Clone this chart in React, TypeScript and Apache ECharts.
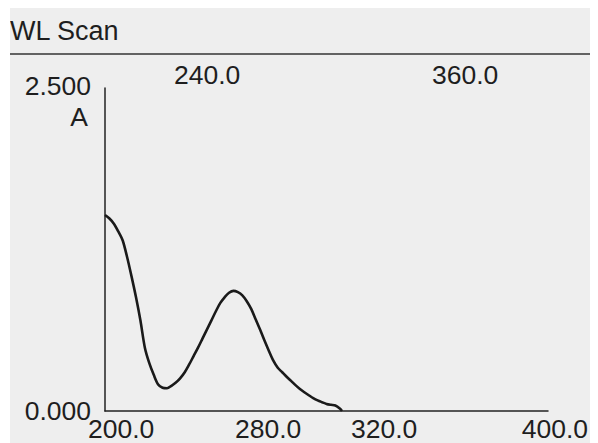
import React, { useEffect, useRef } from "react";
import * as echarts from "echarts";

const wavelengths = [
  200, 202, 204, 206, 208, 210, 212, 214, 216, 218, 220, 222, 224, 226, 228, 230,
  232, 234, 236, 238, 240, 242, 244, 246, 248, 250, 252, 254, 256, 258, 260, 262,
  264, 266, 268, 270, 272, 274, 276, 278, 280, 282, 284, 286, 288, 290, 292, 294,
  296, 298, 300, 302, 304, 306, 307,
];
const absorbance = [
  1.517, 1.49, 1.45, 1.39, 1.32, 1.19, 1.04, 0.88, 0.7, 0.49, 0.37, 0.28, 0.205, 0.18, 0.176, 0.195,
  0.22, 0.255, 0.3, 0.36, 0.425, 0.49, 0.56, 0.63, 0.7, 0.77, 0.835, 0.88, 0.915, 0.93, 0.92, 0.895,
  0.85, 0.79, 0.71, 0.63, 0.545, 0.465, 0.39, 0.335, 0.3, 0.265, 0.233, 0.2, 0.17, 0.145, 0.122, 0.1,
  0.082, 0.068, 0.055, 0.048, 0.043, 0.02, 0.0,
];

const title = "WL Scan";
const xMin = 200;
const xMax = 400;
const yMin = 0;
const yMax = 2.5;
const yUnit = "A";
const yTickLabels = ["2.500", "0.000"];
const xBottomLabels = ["200.0", "280.0", "320.0", "400.0"];
const xTopLabels = ["240.0", "360.0"];

export default function App() {
  const ref = useRef<HTMLDivElement>(null);
  useEffect(() => {
    if (!ref.current) return;
    const chart = echarts.init(ref.current, null, { renderer: "svg" });
    const font = "'Liberation Sans', Arial, Helvetica, sans-serif";
    const txt = (text: string, x: number, y: number, align: string, size = 26.5) => ({
      type: "text",
      x,
      y,
      style: {
        text,
        fontFamily: font,
        fontSize: size,
        fill: "#1e1e1e",
        align,
        verticalAlign: "middle",
      },
    });
    chart.setOption({
      animation: false,
      backgroundColor: "#eeeeee",
      grid: { left: 95, right: 50, top: 80, bottom: 32 },
      xAxis: {
        type: "value",
        min: xMin,
        max: xMax,
        axisLine: { show: true, lineStyle: { color: "#222", width: 1.5 } },
        axisTick: { show: false },
        axisLabel: { show: false },
        splitLine: { show: false },
      },
      yAxis: {
        type: "value",
        min: yMin,
        max: yMax,
        axisLine: { show: true, lineStyle: { color: "#222", width: 1.5 } },
        axisTick: { show: false },
        axisLabel: { show: false },
        splitLine: { show: false },
      },
      series: [
        {
          type: "line",
          data: wavelengths.map((w, i) => [w, absorbance[i]]),
          showSymbol: false,
          smooth: 0.3,
          lineStyle: { color: "#1a1a1a", width: 2.6 },
        },
      ],
      graphic: [
        {
          type: "line",
          shape: { x1: 0, y1: 46, x2: 600, y2: 46 },
          style: { stroke: "#333", lineWidth: 1.6 },
        },
        txt(title, 0, 22.5, "left", 27),
        txt(yTickLabels[0], 81, 77.5, "right"),
        txt(yUnit, 78, 108.5, "right"),
        txt(yTickLabels[1], 81, 403, "right"),
        txt(xBottomLabels[0], 78, 420.5, "left"),
        txt(xBottomLabels[1], 225, 420.5, "left"),
        txt(xBottomLabels[2], 341, 420.5, "left"),
        txt(xBottomLabels[3], 578, 420.5, "right"),
        txt(xTopLabels[0], 164, 66.5, "left"),
        txt(xTopLabels[1], 422, 66.5, "left"),
      ],
    });
    return () => chart.dispose();
  }, []);
  return <div ref={ref} style={{ width: 588, height: 435, marginLeft: 2 }} />;
}
